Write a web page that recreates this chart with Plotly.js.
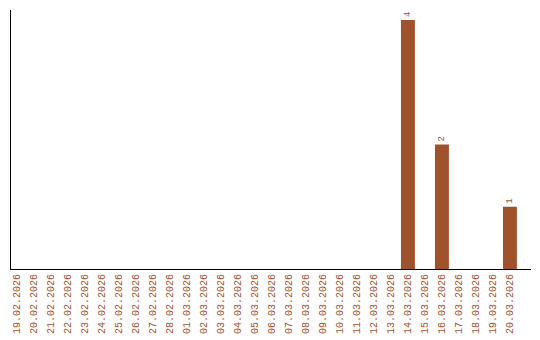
<!DOCTYPE html>
<html><head><meta charset="utf-8">
<script src="https://cdn.plot.ly/plotly-3.0.1.min.js"></script>
<style>html,body{margin:0;padding:0;background:#fff}#c{width:540px;height:340px}</style>
</head><body><div id="c"></div>
<script>
const categories = ["19.02.2026","20.02.2026","21.02.2026","22.02.2026","23.02.2026","24.02.2026","25.02.2026","26.02.2026","27.02.2026","28.02.2026","01.03.2026","02.03.2026","03.03.2026","04.03.2026","05.03.2026","06.03.2026","07.03.2026","08.03.2026","09.03.2026","10.03.2026","11.03.2026","12.03.2026","13.03.2026","14.03.2026","15.03.2026","16.03.2026","17.03.2026","18.03.2026","19.03.2026","20.03.2026"];
const values = [0,0,0,0,0,0,0,0,0,0,0,0,0,0,0,0,0,0,0,0,0,0,0,4,0,2,0,0,0,1];
const labels = values.map(v => v > 0 ? String(v) : "");
const color = "#a0522d";
Plotly.newPlot("c", [{
  type: "bar", x: categories.map((c,i)=>i), y: values,
  marker: {color: color},
  text: labels, textposition: "outside", textangle: -90,
  textfont: {family: "Liberation Mono", size: 9, color: color},
  cliponaxis: false, hoverinfo: "none"
}], {
  width: 540, height: 340,
  margin: {l: 11, r: 9, t: 10, b: 71},
  paper_bgcolor: "#fff", plot_bgcolor: "#fff",
  bargap: 0.18, showlegend: false,
  xaxis: {
    range: [-0.35, 30.24], tickmode: "array", tickvals: categories.map((c,i)=>i), ticktext: categories,
    tickangle: -90, tickfont: {family: "Liberation Mono", size: 10, color: color},
    showline: true, linecolor: "#000", linewidth: 1, showgrid: false, zeroline: false, ticks: "", automargin: false
  },
  yaxis: {
    range: [0, 4.16], showticklabels: false, showline: true, linecolor: "#000", linewidth: 1,
    showgrid: false, zeroline: false, ticks: "", automargin: false
  }
}, {displayModeBar: false, staticPlot: true});
</script></body></html>
